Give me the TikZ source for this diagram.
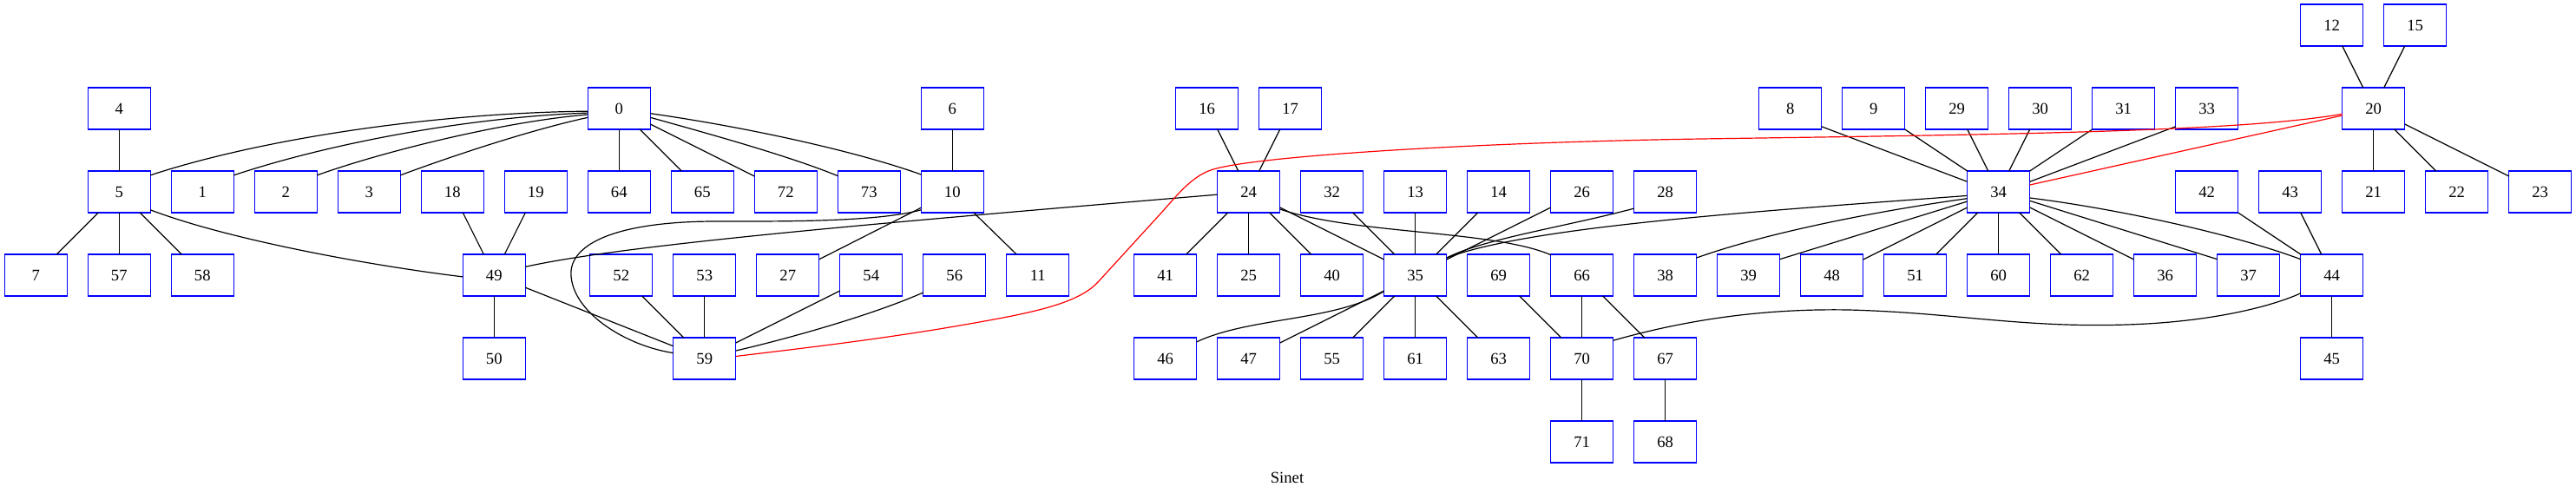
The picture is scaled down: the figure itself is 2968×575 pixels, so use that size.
\documentclass[tikz,border=0pt]{standalone}
\usepackage{fontspec}
\setmainfont{Liberation Serif}
\tikzset{
  vbox/.style={draw=blue, line width=0.95pt, minimum width=54pt, minimum height=36pt,
    inner sep=0pt, outer sep=0pt, font=\fontsize{14}{16}\selectfont},
  redge/.style={draw=red}
}
\begin{document}
\begin{tikzpicture}[x=0.75pt,y=-0.75pt,line width=0.9pt]
    \useasboundingbox (0,0) rectangle (2968,575);
    %
    \node[vbox] (n12) at (2686.7,29) {12};
    \node[vbox] (n15) at (2782.7,29) {15};
    %
    \node[vbox] (n4)  at (137.3,125) {4};
    \node[vbox] (n0)  at (713.3,125) {0};
    \node[vbox] (n6)  at (1097.3,125) {6};
    \node[vbox] (n16) at (1390.7,125) {16};
    \node[vbox] (n17) at (1486.7,125) {17};
    \node[vbox] (n8)  at (2062.7,125) {8};
    \node[vbox] (n9)  at (2158.7,125) {9};
    \node[vbox] (n29) at (2254.7,125) {29};
    \node[vbox] (n30) at (2350.7,125) {30};
    \node[vbox] (n31) at (2446.7,125) {31};
    \node[vbox] (n33) at (2542.7,125) {33};
    \node[vbox] (n20) at (2734.7,125) {20};
    %
    \node[vbox] (n5)  at (137.3,221) {5};
    \node[vbox] (n1)  at (233.3,221) {1};
    \node[vbox] (n2)  at (329.3,221) {2};
    \node[vbox] (n3)  at (425.3,221) {3};
    \node[vbox] (n18) at (521.3,221) {18};
    \node[vbox] (n19) at (617.3,221) {19};
    \node[vbox] (n64) at (713.3,221) {64};
    \node[vbox] (n65) at (809.3,221) {65};
    \node[vbox] (n72) at (905.3,221) {72};
    \node[vbox] (n73) at (1001.3,221) {73};
    \node[vbox] (n10) at (1097.3,221) {10};
    \node[vbox] (n24) at (1438.7,221) {24};
    \node[vbox] (n32) at (1534.7,221) {32};
    \node[vbox] (n13) at (1630.7,221) {13};
    \node[vbox] (n14) at (1726.7,221) {14};
    \node[vbox] (n26) at (1822.7,221) {26};
    \node[vbox] (n28) at (1918.7,221) {28};
    \node[vbox] (n34) at (2302.7,221) {34};
    \node[vbox] (n42) at (2542.7,221) {42};
    \node[vbox] (n43) at (2638.7,221) {43};
    \node[vbox] (n21) at (2734.7,221) {21};
    \node[vbox] (n22) at (2830.7,221) {22};
    \node[vbox] (n23) at (2926.7,221) {23};
    %
    \node[vbox] (n7)  at (41.3,317) {7};
    \node[vbox] (n57) at (137.3,317) {57};
    \node[vbox] (n58) at (233.3,317) {58};
    \node[vbox] (n49) at (569.3,317) {49};
    \node[vbox] (n52) at (715.8,317) {52};
    \node[vbox] (n53) at (811.8,317) {53};
    \node[vbox] (n27) at (907.8,317) {27};
    \node[vbox] (n54) at (1003.8,317) {54};
    \node[vbox] (n56) at (1099.8,317) {56};
    \node[vbox] (n11) at (1195.8,317) {11};
    \node[vbox] (n41) at (1342.7,317) {41};
    \node[vbox] (n25) at (1438.7,317) {25};
    \node[vbox] (n40) at (1534.7,317) {40};
    \node[vbox] (n35) at (1630.7,317) {35};
    \node[vbox] (n69) at (1726.7,317) {69};
    \node[vbox] (n66) at (1822.7,317) {66};
    \node[vbox] (n38) at (1918.7,317) {38};
    \node[vbox] (n39) at (2014.7,317) {39};
    \node[vbox] (n48) at (2110.7,317) {48};
    \node[vbox] (n51) at (2206.7,317) {51};
    \node[vbox] (n60) at (2302.7,317) {60};
    \node[vbox] (n62) at (2398.7,317) {62};
    \node[vbox] (n36) at (2494.7,317) {36};
    \node[vbox] (n37) at (2590.7,317) {37};
    \node[vbox] (n44) at (2686.7,317) {44};
    %
    \node[vbox] (n50) at (569.3,413) {50};
    \node[vbox] (n59) at (811.8,413) {59};
    \node[vbox] (n46) at (1342.7,413) {46};
    \node[vbox] (n47) at (1438.7,413) {47};
    \node[vbox] (n55) at (1534.7,413) {55};
    \node[vbox] (n61) at (1630.7,413) {61};
    \node[vbox] (n63) at (1726.7,413) {63};
    \node[vbox] (n70) at (1822.7,413) {70};
    \node[vbox] (n67) at (1918.7,413) {67};
    \node[vbox] (n45) at (2686.7,413) {45};
    %
    \node[vbox] (n71) at (1822.7,509) {71};
    \node[vbox] (n68) at (1918.7,509) {68};
    %
    \node[font=\fontsize{14}{16}\selectfont] (title) at (1483,550) {Sinet};
    %
    \draw (n4) -- (n5); \draw (n5) -- (n7); \draw (n5) -- (n57); \draw (n5) -- (n58);
    \draw (n0.185) .. controls (500,130) and (300,160) .. (n5.28);
    \draw (n0.188) .. controls (540,135) and (380,165) .. (n1.28);
    \draw (n0.191) .. controls (580,140) and (440,175) .. (n2.28);
    \draw (n0.196) .. controls (610,150) and (520,180) .. (n3.28);
    \draw (n0) -- (n64); \draw (n0) -- (n65); \draw (n0) -- (n72);
    \draw (n0.-16) .. controls (820,155) and (910,180) .. (n73.153);
    \draw (n0.-9) .. controls (850,145) and (980,172) .. (n10.151);
    \draw (n5.-30) .. controls (260,275) and (420,305) .. (n49.183);
    \draw (n18) -- (n49); \draw (n19) -- (n49); \draw (n49) -- (n50); \draw (n49) -- (n59);
    \draw (n6) -- (n10); \draw (n10) -- (n11); \draw (n10) -- (n27);
    \draw (n10.210) .. controls (1010,256) and (900,255) .. (820,255)
       .. controls (700,256) and (655,285) .. (658,318)
       .. controls (661,360) and (720,398) .. (n59.170);
    \draw (n24.185) .. controls (1000,258) and (720,282) .. (n49.15);
    \draw (n52) -- (n59); \draw (n53) -- (n59); \draw (n54) -- (n59);
    \draw (n56.209) .. controls (1000,365) and (900,392) .. (n59.14);
    %
    \draw (n16) -- (n24); \draw (n17) -- (n24); \draw (n24) -- (n41); \draw (n24) -- (n25);
    \draw (n24) -- (n40); \draw (n24) -- (n35);
    \draw (n24.-29) .. controls (1560,270) and (1720,265) .. (n66.147);
    \draw (n32) -- (n35); \draw (n13) -- (n35); \draw (n14) -- (n35); \draw (n26) -- (n35);
    \draw (n28.208) .. controls (1800,262) and (1710,275) .. (n35.29);
    \draw (n34.187) .. controls (2000,245) and (1760,262) .. (n35.29);
    \draw (n35.207) .. controls (1540,370) and (1440,365) .. (n46.28);
    \draw (n35) -- (n47); \draw (n35) -- (n55); \draw (n35) -- (n61); \draw (n35) -- (n63);
    \draw (n69) -- (n70); \draw (n66) -- (n70); \draw (n66) -- (n67);
    \draw (n70) -- (n71); \draw (n67) -- (n68);
    \draw (n70.30) .. controls (1930,372) and (2020,355) .. (2130,357)
       .. controls (2250,360) and (2330,378) .. (2450,374)
       .. controls (2550,371) and (2620,352) .. (n44.210);
    %
    \draw (n8.-30) -- (n34.162); \draw (n9) -- (n34); \draw (n29) -- (n34);
    \draw (n30) -- (n34); \draw (n31) -- (n34); \draw (n33.210) -- (n34.18);
    \draw (n34.192) .. controls (2150,245) and (2030,270) .. (n38.29);
    \draw (n34.197) -- (n39.27); \draw (n34) -- (n48); \draw (n34) -- (n51);
    \draw (n34) -- (n60); \draw (n34) -- (n62); \draw (n34) -- (n36);
    \draw (n34.-16) -- (n37.153);
    \draw (n34.-11) .. controls (2420,238) and (2560,265) .. (n44.153);
    \draw (n42) -- (n44); \draw (n43) -- (n44); \draw (n44) -- (n45);
    %
    \draw (n12) -- (n20); \draw (n15) -- (n20);
    \draw (n20) -- (n21); \draw (n20) -- (n22); \draw (n20) -- (n23);
    \draw[redge] (n20) -- (n34);
    \draw[redge] (n20.190) .. controls (2580,152) and (2300,155) .. (1960,160)
       .. controls (1700,164) and (1440,180) .. (1395,196)
       .. controls (1375,203) and (1360,220) .. (1340,243) -- (1265,325)
       .. controls (1240,352) and (1180,362) .. (1100,376)
       .. controls (1000,393) and (900,404) .. (n59.4);
\end{tikzpicture}
\end{document}
